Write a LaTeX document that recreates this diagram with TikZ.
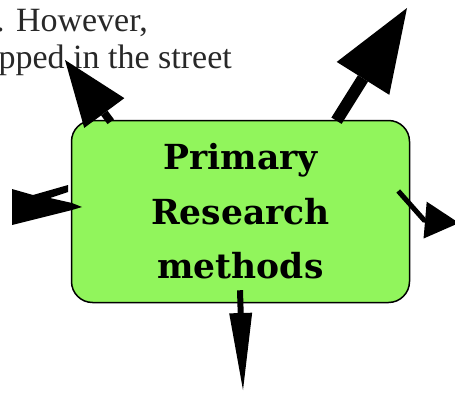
\documentclass[tikz,border=0pt]{standalone}
\usepackage{fontspec}
\setmainfont{DejaVu Serif}
\newfontfamily\notefont{Liberation Serif}
\usetikzlibrary{arrows.meta,calc}
\definecolor{boxgreen}{RGB}{145,245,92}
\definecolor{notegray}{RGB}{40,40,40}
\begin{document}
\begin{tikzpicture}[x=1pt,y=1pt,
  topic/.style={draw=black,line width=1.5pt,fill=boxgreen,rounded corners=21pt,
    minimum width=338pt,minimum height=182pt,align=center,inner sep=0pt,
    font=\bfseries\fontsize{34.5}{54.5}\selectfont},
  note/.style={anchor=base east,inner sep=0pt,text=notegray,
    font=\notefont\fontsize{34}{40}\selectfont},
  link/.style={draw=black,line join=miter}
]
\useasboundingbox (0,0) rectangle (455,392);
\clip (0,0) rectangle (455,392);

% running text behind the chart
\node[note] (noteA) at (148,360) {. However,};
\node[note] (noteB) at (232,324) {stopped in the street};

% central topic
\node[topic] (box) at (240.5,180.5) {Primary\\Research\\methods};

% outgoing connectors
\coordinate (tlTip) at (65,332);
\coordinate (trTip) at (407,384);
\coordinate (rBend) at (424,172);
\coordinate (rTip) at (459,169);
\coordinate (bTip) at (243,2);

\draw[link,line width=8pt,-{Triangle[length=66pt,width=50pt,line width=0pt]}]
  ($(box.north west)+(40,-2)$) -- (tlTip);
\draw[link,line width=12pt,-{Triangle[length=83pt,width=62pt,line width=0pt]}]
  ($(box.north)+(96,-1)$) -- (trTip);
\draw[link,line width=5pt,-{Triangle[length=34pt,width=37pt,line width=0pt]}]
  ($(box.east)+(-12,20.5)$) -- (rBend) -- (rTip);
\draw[link,line width=6pt,-{Triangle[length=77pt,width=23pt,line width=0pt]}]
  ($(box.south)+(-0.5,13)$) -- (bTip);

% left connector stub
\fill[black] (12,203) -- (33,197) -- (68,207) -- (68,200) -- (50,194)
  -- (72,189) -- (82,185) -- (72,182) -- (12,167) -- cycle;
\end{tikzpicture}
\end{document}
